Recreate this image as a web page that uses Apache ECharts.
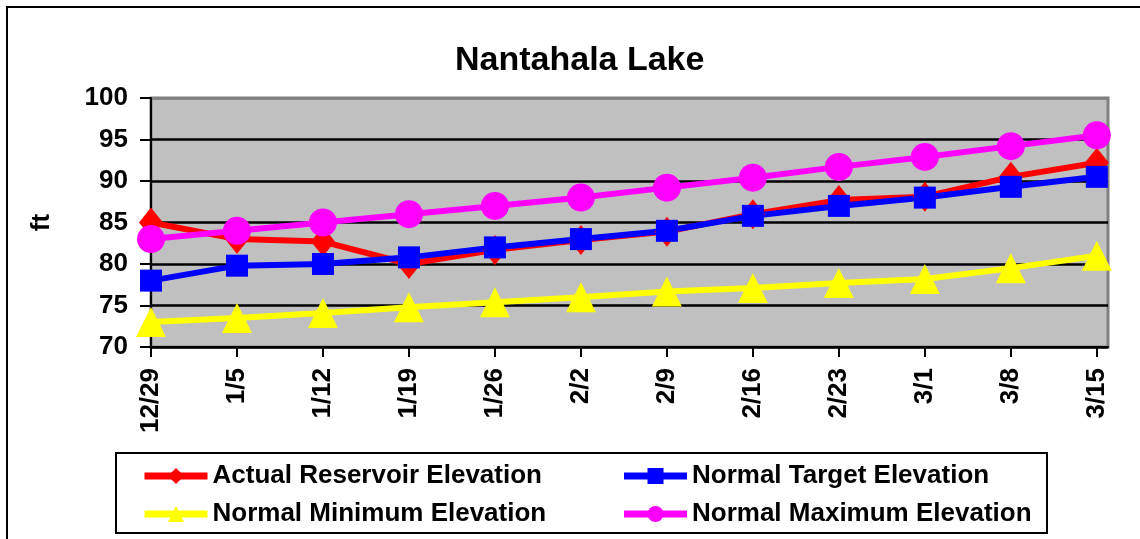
<!DOCTYPE html>
<html>
<head>
<meta charset="utf-8">
<script src="https://cdn.jsdelivr.net/npm/echarts@6/dist/echarts.min.js"></script>
<style>
    html, body { margin: 0; padding: 0; background: #fff; overflow: hidden; }
    #frame { position: absolute; left: 6px; top: 6px; width: 1300px; height: 700px; border-left: 2px solid #000; border-top: 2px solid #000; }
    #lakeChart { position: absolute; left: 0; top: 0; width: 1140px; height: 539px; }
</style>
</head>
<body>
<div id="frame"></div>
<div id="lakeChart"></div>
<script>
// dates along the bottom
var dates = ['12/29', '1/5', '1/12', '1/19', '1/26', '2/2', '2/9', '2/16', '2/23', '3/1', '3/8', '3/15'];
// elevations, ft
var actualElev = [85.0, 83.0, 82.7, 80.0, 81.7, 82.9, 83.9, 86.0, 87.7, 88.1, 90.5, 92.2];
var targetElev = [78.0, 79.8, 80.0, 80.8, 82.0, 83.0, 84.0, 85.8, 87.0, 88.0, 89.3, 90.5];
var minElev = [73.0, 73.5, 74.1, 74.8, 75.4, 76.0, 76.7, 77.1, 77.7, 78.2, 79.5, 81.0];
var maxElev = [83.0, 84.0, 85.0, 86.0, 87.0, 88.0, 89.2, 90.4, 91.7, 92.9, 94.2, 95.5];
var yTicks = [70, 75, 80, 85, 90, 95, 100];

var myChart = echarts.init(document.getElementById('lakeChart'));
var font = 'Liberation Sans, Arial, sans-serif';
var idx = [];
for (var i = 0; i < dates.length; i++) {
    idx.push(i);
}
function pairs(arr) {
    var out = [];
    for (var i = 0; i < arr.length; i++) {
        out.push([i, arr[i]]);
    }
    return out;
}
function lineSeries(name, color, symbol, size, arr) {
    return {
        name: name,
        type: 'line',
        data: pairs(arr),
        symbol: symbol,
        symbolSize: size,
        lineStyle: {color: color, width: 6},
        itemStyle: {color: color},
        emphasis: {disabled: true}
    };
}
var option = {
    animation: false,
    title: {
        text: 'Nantahala Lake',
        left: 450,
        top: 39,
        textStyle: {fontFamily: font, fontSize: 34, fontWeight: 'bold', color: '#000'}
    },
    grid: {
        left: 151,
        right: 32,
        top: 98,
        bottom: 192,
        show: true,
        backgroundColor: '#C0C0C0',
        borderColor: '#808080',
        borderWidth: 3
    },
    legend: {
        left: 116,
        top: 453,
        width: 900,
        padding: [10, 15, 6, 25],
        itemWidth: 63,
        itemHeight: 20,
        itemGap: 12,
        borderColor: '#000',
        borderWidth: 2,
        backgroundColor: '#fff',
        lineStyle: {width: 7},
        textStyle: {fontFamily: font, fontSize: 26, fontWeight: 'bold', color: '#000', lineHeight: 22},
        data: [
            {name: 'Actual Reservoir Elevation', textStyle: {width: 396}},
            {name: 'Normal Target Elevation', textStyle: {width: 340}},
            {name: 'Normal Minimum Elevation', textStyle: {width: 396}},
            {name: 'Normal Maximum Elevation', textStyle: {width: 340}}
        ]
    },
    xAxis: {
        type: 'value',
        min: 0,
        max: 11.13,
        interval: 1,
        splitLine: {show: false},
        axisLine: {show: true, onZero: false, lineStyle: {color: '#000', width: 2}},
        axisTick: {show: true, length: 10, customValues: idx, lineStyle: {color: '#000', width: 2}},
        axisLabel: {
            customValues: idx,
            rotate: 90,
            margin: 21,
            fontFamily: font,
            fontSize: 26,
            fontWeight: 'bold',
            color: '#000',
            formatter: function (v) {
                return dates[Math.round(v)];
            }
        }
    },
    yAxis: {
        type: 'value',
        min: 70,
        max: 100,
        interval: 5,
        name: 'ft',
        nameLocation: 'middle',
        nameRotate: 90,
        nameGap: 96,
        nameTextStyle: {fontFamily: font, fontSize: 26, fontWeight: 'bold', color: '#000'},
        axisLine: {show: true, lineStyle: {color: '#000', width: 2}},
        axisTick: {show: true, length: 11, lineStyle: {color: '#000', width: 2}},
        splitLine: {
            show: true,
            lineStyle: {color: ['#000', '#000', '#000', '#000', '#000', '#000', '#808080'], width: 2.5}
        },
        axisLabel: {
            margin: 23,
            fontFamily: font,
            fontSize: 26,
            fontWeight: 'bold',
            color: '#000',
            formatter: function (v) {
                return yTicks.indexOf(v) >= 0 ? String(v) : '';
            }
        }
    },
    series: [
        lineSeries('Actual Reservoir Elevation', '#FF0000', 'diamond', [24, 30], actualElev),
        lineSeries('Normal Target Elevation', '#0000FF', 'rect', 22, targetElev),
        lineSeries('Normal Minimum Elevation', '#FFFF00', 'triangle', [30, 30], minElev),
        lineSeries('Normal Maximum Elevation', '#FF00FF', 'circle', 28, maxElev)
    ]
};
myChart.setOption(option);
</script>
</body>
</html>
